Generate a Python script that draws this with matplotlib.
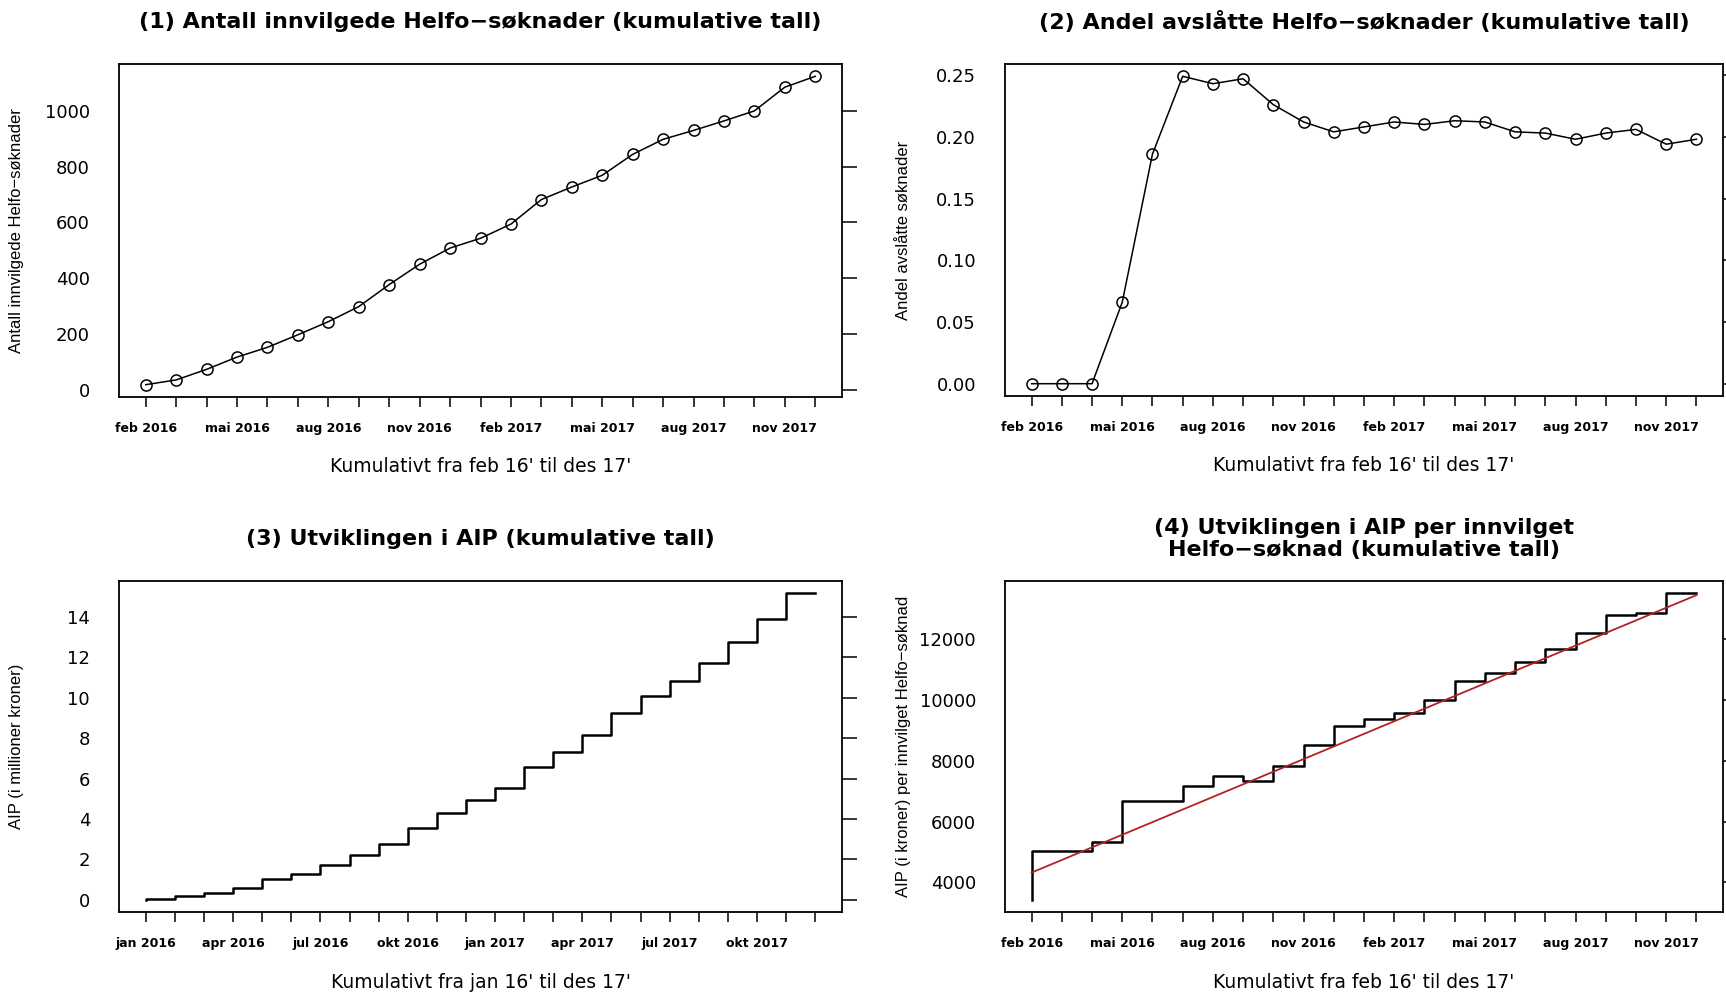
import numpy as np
import matplotlib
matplotlib.use('Agg')
import matplotlib.pyplot as plt

plt.rcParams['font.family'] = ['DejaVu Sans']

# month labels (norsk)
mnd = ['jan', 'feb', 'mar', 'apr', 'mai', 'jun', 'jul', 'aug', 'sep', 'okt', 'nov', 'des']
months_jan = [f'{m} {y}' for y in (2016, 2017) for m in mnd]   # jan 2016 - des 2017
months_feb = months_jan[1:]                                      # feb 2016 - des 2017

# (1) antall innvilgede Helfo-soknader, kumulativt
innvilget = [18, 35, 73, 117, 152, 197, 244, 298, 377, 450, 508, 543,
             594, 682, 727, 769, 844, 898, 930, 964, 1000, 1085, 1124]
# (2) andel avslatte soknader, kumulativt
andel_avslatt = [0.0, 0.0, 0.0, 0.066, 0.186, 0.249, 0.243, 0.247, 0.226, 0.212, 0.204, 0.208,
                 0.212, 0.210, 0.213, 0.212, 0.204, 0.203, 0.198, 0.203, 0.206, 0.194, 0.198]
# (3) AIP i millioner kroner, kumulativt
aip_mill = [0.0, 0.03, 0.18, 0.35, 0.60, 1.02, 1.29, 1.70, 2.20, 2.78, 3.54, 4.28,
            4.96, 5.54, 6.55, 7.31, 8.13, 9.24, 10.07, 10.81, 11.74, 12.76, 13.92, 15.17]
# (4) AIP per innvilget soknad (kroner)
aip_per = [3430, 5043, 5043, 5328, 6667, 6667, 7161, 7502, 7326, 7831, 8501, 9126,
           9379, 9554, 10004, 10608, 10894, 11234, 11673, 12189, 12782, 12869, 13506]

W, H = 1726, 992
fig = plt.figure(figsize=(W / 100, H / 100), dpi=100)


def make_ax(l, t, r, b):
    return fig.add_axes([l / W, 1 - b / H, (r - l) / W, (b - t) / H])


def style(ax, labels, yticks, yfmt, xlabel, ylabel, ylab_px):
    n = len(labels)
    x = np.arange(1, n + 1)
    ax.set_xticks(x)
    ax.set_xticklabels([lab if i % 3 == 0 else '' for i, lab in enumerate(labels)],
                       fontsize=9, fontweight='bold')
    ax.set_yticks(yticks)
    ax.set_yticklabels([yfmt(v) for v in yticks], fontsize=13)
    ax.tick_params(axis='x', direction='out', length=7.2, width=1.1, pad=10.5)
    ax.tick_params(axis='y', direction='out', left=False, right=True,
                   labelleft=True, labelright=False, length=10.8, width=1.1, pad=10)
    for sp in ax.spines.values():
        sp.set_linewidth(1.3)
    ax.margins(x=0.04, y=0.04)
    ax.set_xlabel(xlabel, fontsize=13.5)
    ax.xaxis.set_label_coords(0.5, -0.18)
    ax.set_ylabel(ylabel, fontsize=12, family=['Liberation Sans', 'DejaVu Sans'])
    pos = ax.get_position()
    ax.yaxis.set_label_coords((ylab_px / W - pos.x0) / pos.width, 0.5)
    return x


# panel 1
ax1 = make_ax(119, 64, 842, 397)
x1 = style(ax1, months_feb, [0, 200, 400, 600, 800, 1000], lambda v: f'{v:d}',
           "Kumulativt fra feb 16' til des 17'", 'Antall innvilgede Helfo\u2212s\u00f8knader', 24)
ax1.plot(x1, innvilget, color='black', lw=1.1, marker='o', ms=8, mfc='none', mew=1.1)

# panel 2
ax2 = make_ax(1005, 64, 1723, 396)
x2 = style(ax2, months_feb, [0.0, 0.05, 0.10, 0.15, 0.20, 0.25], lambda v: f'{v:.2f}',
           "Kumulativt fra feb 16' til des 17'", 'Andel avsl\u00e5tte s\u00f8knader', 911)
ax2.plot(x2, andel_avslatt, color='black', lw=1.1, marker='o', ms=8, mfc='none', mew=1.1)

# panel 3
ax3 = make_ax(119, 581, 842, 912)
x3 = style(ax3, months_jan, [0, 2, 4, 6, 8, 10, 12, 14], lambda v: f'{v:d}',
           "Kumulativt fra jan 16' til des 17'", 'AIP (i millioner kroner)', 24)
ax3.xaxis.set_label_coords(0.5, -0.183)
ax3.step(x3, aip_mill, where='pre', color='black', lw=1.8)

# panel 4
ax4 = make_ax(1005, 581, 1723, 912)
x4 = style(ax4, months_feb, [4000, 6000, 8000, 10000, 12000], lambda v: f'{v:d}',
           "Kumulativt fra feb 16' til des 17'", 'AIP (i kroner) per innvilget Helfo\u2212s\u00f8knad', 911)
ax4.xaxis.set_label_coords(0.5, -0.183)
ax4.step(x4, aip_per, where='pre', color='black', lw=1.8)
coef = np.polyfit(x4, aip_per, 1)
ax4.plot(x4, np.polyval(coef, x4), color='#b22222', lw=1.3)

# titles
tkw = dict(ha='center', va='center', fontsize=16, fontweight='bold')
fig.text(480 / W, 1 - 22 / H, '(1) Antall innvilgede Helfo\u2212s\u00f8knader (kumulative tall)', **tkw)
fig.text(1364 / W, 1 - 22 / H, '(2) Andel avsl\u00e5tte Helfo\u2212s\u00f8knader (kumulative tall)', **tkw)
fig.text(480 / W, 1 - 539 / H, '(3) Utviklingen i AIP (kumulative tall)', **tkw)
fig.text(1364 / W, 1 - 539 / H, '(4) Utviklingen i AIP per innvilget\nHelfo\u2212s\u00f8knad (kumulative tall)',
         linespacing=1.12, **tkw)

fig.savefig('out.png', dpi=100)
